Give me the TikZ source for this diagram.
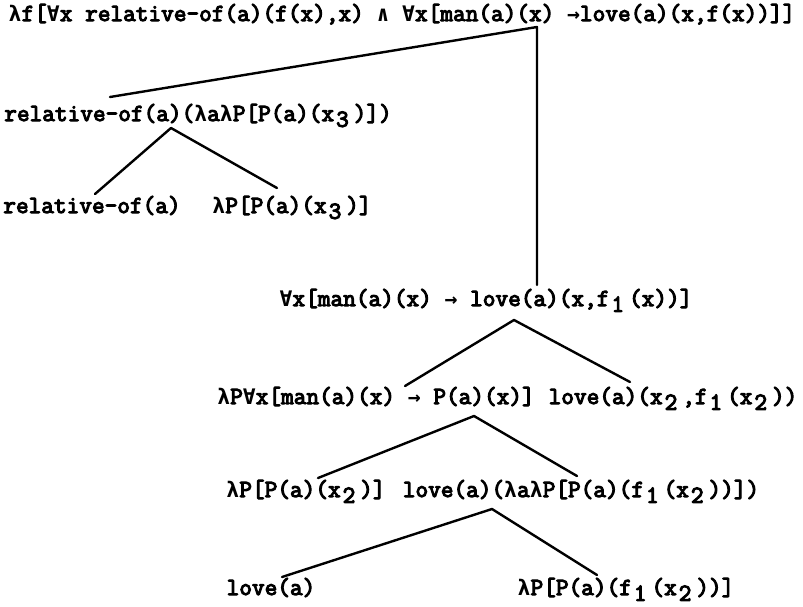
\documentclass[tikz,border=0pt]{standalone}
\usepackage{fontspec}
\usepackage{tikz}
\newfontfamily\tw{Latin Modern Mono}[FakeBold=4.5]
\newfontfamily\symfont{DejaVu Sans Mono}[Scale=0.87]

% one typewriter cell per logic symbol, so the columns stay even
\newcommand\cell[1]{\makebox[0.525em]{{\symfont\bfseries #1}}}
\newcommand\lam{\cell{λ}}
\newcommand\fa{\cell{∀}}
\newcommand\andsym{\cell{∧}}
\newcommand\arr{\cell{→}}
\newcommand\low[1]{\kern0.08em\raisebox{-0.55ex}{#1}\kern0.2em}

\begin{document}
\begin{tikzpicture}[x=0.5pt, y=-0.5pt, line join=round, line cap=round,
	every node/.style={font=\tw\fontsize{12.3}{14}\selectfont, inner sep=0pt, anchor=base},
	branch/.style={line width=1.2pt}]
	\useasboundingbox (0,0) rectangle (803,606);
	
	% 1. Formulas, row by row (placed by their middle)
	\node (root) at (402,21) {\lam f[\fa x relative-of(a)(f(x),x) \andsym\ \fa x[man(a)(x) \arr love(a)(x,f(x))]]};
	
	\node (rel) at (198,121) {relative-of(a)(\lam a\lam P[P(a)(x\low{3})])};
	
	\node (relof) at (92,213) {relative-of(a)};
	\node (px3) at (292,213) {\lam P[P(a)(x\low{3})]};
	
	\node (forall) at (486,306) {\fa x[man(a)(x) \arr\ love(a)(x,f\low{1}(x))]};
	
	\node (lamall) at (376,404) {\lam P\fa x[man(a)(x) \arr\ P(a)(x)]};
	\node (lovex) at (673,404) {love(a)(x\low{2},f\low{1}(x\low{2}))};
	
	\node (px2) at (306,497) {\lam P[P(a)(x\low{2})]};
	\node (lovelam) at (581,497) {love(a)(\lam a\lam P[P(a)(f\low{1}(x\low{2}))])};
	
	\node (lovea) at (271,595) {love(a)};
	\node (pf1) at (626,595) {\lam P[P(a)(f\low{1}(x\low{2}))]};
	
	% 2. Branch points
	\coordinate (root-b) at (537,27);
	\coordinate (rel-t) at (110,97);
	\coordinate (forall-t) at (537,285);
	\coordinate (rel-b) at (171,128);
	\coordinate (relof-t) at (95,194);
	\coordinate (px3-t) at (277,188);
	\coordinate (forall-b) at (514,320);
	\coordinate (lamall-t) at (405,386);
	\coordinate (lovex-t) at (630,382);
	\coordinate (lamall-b) at (474,416);
	\coordinate (px2-t) at (318,478);
	\coordinate (lovelam-t) at (577,476);
	\coordinate (lovelam-b) at (492,509);
	\coordinate (lovea-t) at (282,577);
	\coordinate (pf1-t) at (597,575);
	
	% 3. Tree
	\draw[branch] (rel-t) -- (root-b) -- (forall-t);
	\draw[branch] (relof-t) -- (rel-b) -- (px3-t);
	\draw[branch] (lamall-t) -- (forall-b) -- (lovex-t);
	\draw[branch] (px2-t) -- (lamall-b) -- (lovelam-t);
	\draw[branch] (lovea-t) -- (lovelam-b) -- (pf1-t);
\end{tikzpicture}
\end{document}
